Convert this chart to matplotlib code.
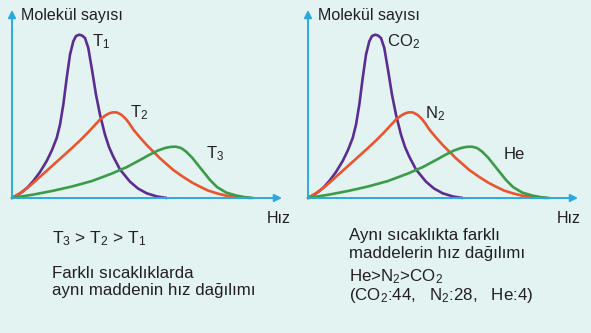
import matplotlib
matplotlib.use('Agg')
import matplotlib.pyplot as plt

# --- Colours / fonts ---
BG = '#e2f3f2'
AXIS = '#29a9e1'
TEXT = '#231f20'
PURPLE = '#5c2d91'
RED = '#e9552e'
GREEN = '#3b9b48'

plt.rcParams['font.family'] = ['Liberation Sans', 'DejaVu Sans']
plt.rcParams['mathtext.default'] = 'regular'

# --- Curve data (speed, molecule count) ---
# slow / heavy curve (T1, CO2)
slow_x = [0, 8, 15, 21.3, 28, 34.7, 40, 44.7, 48, 51.3, 54.7, 58, 61.3, 64, 67.3,
          70, 73, 76.3, 79.7, 84, 88, 93, 97, 101.3, 108, 118, 126, 134.7, 145, 154.7]
slow_y = [0, 4.5, 10, 17, 26, 37, 48, 60, 73.3, 93.3, 120, 143.3, 156.7, 162,
          163.3, 162.5, 160, 150, 130, 103.3, 83.3, 63.3, 51, 41.3, 28.5, 16.3,
          9.5, 4.7, 1.5, 0]

# middle curve (T2, N2)
mid_x = [0, 10, 20, 30, 40, 50, 60, 68, 76, 82, 88, 94, 98, 101.3, 105, 109,
         113, 117, 121.3, 128, 134.7, 148, 161.3, 171.3, 180, 188, 196, 204.7,
         213, 221.3, 238]
mid_y = [0, 6, 14, 23, 32, 41, 50, 57.5, 65.5, 72, 78.5, 83, 85, 85.7, 85.5,
         83.5, 80, 75, 68.5, 60.5, 53, 39.7, 28, 21, 15.5, 11.3, 7.5, 4.7, 2.6,
         1.3, 0]

# fast / light curve (T3, He)
fast_x = [0, 20, 40, 60, 80, 100, 115, 128, 138, 146, 153, 159, 164, 169, 174,
          180, 186, 192, 198, 205, 214, 224, 233, 241]
fast_y = [0, 3.2, 7, 11.5, 17, 24.5, 31, 38, 43.5, 47.5, 50, 51.2, 51.3, 50,
          46.5, 40.5, 33, 25.5, 18, 11, 5.5, 2.5, 0.8, 0]

left_labels = ['T$_1$', 'T$_2$', 'T$_3$']
right_labels = ['CO$_2$', 'N$_2$', 'He']

W, H = 591, 333
fig = plt.figure(figsize=(W / 100, H / 100), dpi=100)
fig.patch.set_facecolor(BG)


def make_panel(x0, labels, label_pos, hiz_x, ylab_x):
    # origin of the panel in pixels is (x0, 198); 1 data unit = 1 pixel
    ax = fig.add_axes([x0 / W, (H - 198) / H, 280 / W, 195 / H])
    ax.set_xlim(0, 280)
    ax.set_ylim(0, 195)
    ax.axis('off')

    for xs, ys, c in [(slow_x, slow_y, PURPLE), (mid_x, mid_y, RED), (fast_x, fast_y, GREEN)]:
        ax.plot(xs, ys, color=c, lw=1.9, solid_joinstyle='round',
                solid_capstyle='round', clip_on=False, zorder=3)

    arrow = dict(arrowstyle='-|>', color=AXIS, lw=1.4, mutation_scale=11,
                 shrinkA=0, shrinkB=0)
    ax.annotate('', xy=(270, 0), xytext=(0, 0), arrowprops=arrow,
                annotation_clip=False, zorder=4)
    ax.annotate('', xy=(0, 188), xytext=(0, 0), arrowprops=arrow,
                annotation_clip=False, zorder=4)

    ax.text(ylab_x, 178, 'Molekül sayısı', fontsize=11.5, color=TEXT,
            va='baseline', ha='left', clip_on=False)
    ax.text(hiz_x, -25, 'Hız', fontsize=11.5, color=TEXT,
            va='baseline', ha='left', clip_on=False)
    for lab, (lx, ly) in zip(labels, label_pos):
        ax.text(lx, ly, lab, fontsize=12, color=TEXT, va='baseline',
                ha='left', clip_on=False)
    return ax


make_panel(12, left_labels, [(80, 152), (118, 81), (194, 40)], 255, 9)
make_panel(308, right_labels, [(79, 152), (117, 80), (196, 39)], 249, 10)


def ftext(px, py, s, size=12.2):
    fig.text(px / W, (H - py) / H, s, fontsize=size, color=TEXT,
             va='baseline', ha='left')


ftext(51.7, 243.3, 'T$_3$ > T$_2$ > T$_1$', 12.5)
ftext(51.7, 278.3, 'Farklı sıcaklıklarda')
ftext(51.7, 295, 'aynı maddenin hız dağılımı')

ftext(349.3, 240, 'Aynı sıcaklıkta farklı')
ftext(349.3, 258.3, 'maddelerin hız dağılımı')
ftext(349.3, 281.7, 'He>N$_2$>CO$_2$')
ftext(349.3, 300, '(CO$_2$:44,   N$_2$:28,   He:4)')

fig.savefig('out.png', dpi=100, facecolor=BG)
